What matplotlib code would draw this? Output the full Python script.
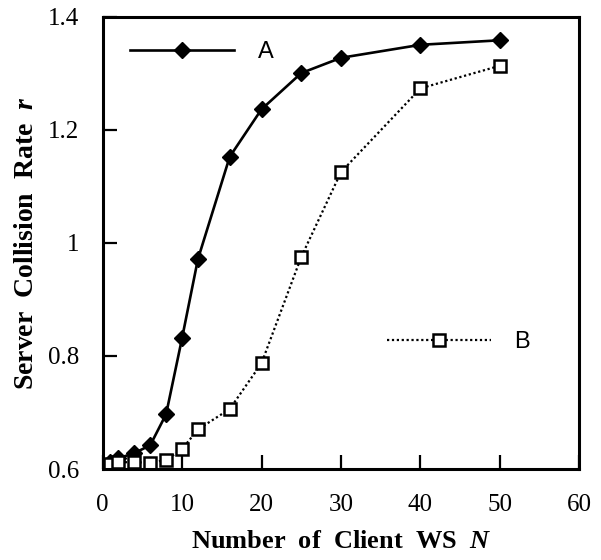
import matplotlib
matplotlib.use("Agg")
from matplotlib import pyplot as plt

# data
n_a = [1, 2, 4, 6, 8, 10, 12, 16, 20, 25, 30, 40, 50]
r_a = [0.612, 0.619, 0.628, 0.642, 0.697, 0.831, 0.971, 1.152, 1.236, 1.300, 1.327, 1.350, 1.358]

n_b = [1, 2, 4, 6, 8, 10, 12, 16, 20, 25, 30, 40, 50]
r_b = [0.608, 0.612, 0.612, 0.611, 0.616, 0.635, 0.670, 0.706, 0.787, 0.975, 1.125, 1.273, 1.313]

x_ticks = [0, 10, 20, 30, 40, 50, 60]
y_ticks = [0.6, 0.8, 1.0, 1.2, 1.4]
y_tick_labels = ['0.6', '0.8', '1', '1.2', '1.4']

plt.rcParams['mathtext.fontset'] = 'custom'
plt.rcParams['mathtext.it'] = 'Liberation Serif:italic:bold'
plt.rcParams['mathtext.rm'] = 'Liberation Serif:bold'

fig = plt.figure(figsize=(6.01, 5.6), dpi=100)
ax = fig.add_axes([0.1706, 0.1625, 0.7936, 0.808])

line_a, = ax.plot(n_a, r_a, color='black', linewidth=1.9, marker='D',
                  markersize=8.5, markerfacecolor='black', markeredgecolor='black')
line_b, = ax.plot(n_b, r_b, color='black', linewidth=1.6, linestyle=(0, (1, 1.2)),
                  marker='s', markersize=8, markerfacecolor='white',
                  markeredgecolor='black', markeredgewidth=1.8)

ax.set_xlim(0, 60)
ax.set_ylim(0.6, 1.4)
ax.set_xticks(x_ticks)
ax.set_yticks(y_ticks)
ax.set_yticklabels(y_tick_labels)
ax.tick_params(direction='in', length=10, width=1.6, labelsize=18,
               top=False, right=False)
ax.tick_params(axis='y', pad=17)
ax.tick_params(axis='x', pad=18)
for lab in ax.get_xticklabels() + ax.get_yticklabels():
    lab.set_fontfamily('Liberation Serif')
for sp in ax.spines.values():
    sp.set_linewidth(2.2)

ax.set_xlabel(r'Number  of  Client  WS  $N$', fontsize=19, fontweight='bold',
              fontfamily='Liberation Serif', labelpad=10)
ax.set_ylabel(r'Server  Collision  Rate  $r$', fontsize=20, fontweight='bold',
              fontfamily='Liberation Serif', labelpad=6)

leg_a = ax.legend([line_a], ['A'], loc='center left', bbox_to_anchor=(0.0577, 0.9215),
                  frameon=False, borderpad=0, borderaxespad=0, handlelength=4.4,
                  handletextpad=1.0, prop={'family': 'Liberation Sans', 'size': 17})
ax.add_artist(leg_a)
ax.legend([line_b], ['B'], loc='center left', bbox_to_anchor=(0.5964, 0.2807),
          frameon=False, borderpad=0, borderaxespad=0, handlelength=4.4,
          handletextpad=1.0, prop={'family': 'Liberation Sans', 'size': 17})

fig.savefig('out.png', dpi=100)
